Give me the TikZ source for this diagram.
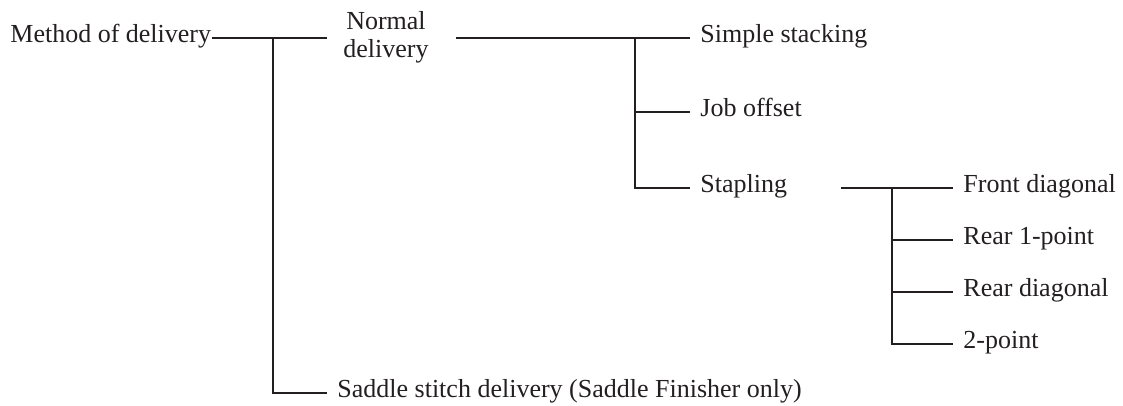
\documentclass[tikz,border=0pt]{standalone}
\usepackage{fontspec}
\setmainfont{Liberation Serif}
\usepackage{xcolor,tikz}
\usetikzlibrary{positioning,calc}
\definecolor{dlvInk}{HTML}{231F20}
\tikzset{
  tree label/.style={
    anchor=west, inner ysep=0pt, inner xsep=5pt,
    text height=4.5pt, text depth=0pt,   % west anchor sits on the branch
    font=\fontsize{13}{13.5}\selectfont, text=dlvInk,
  },
  tree line/.style={
    line width=1pt, color=dlvInk,
  },
}

\begin{document}
\begin{tikzpicture}[x=0.5pt, y=-0.5pt]
\useasboundingbox (0,0) rectangle (1123,406);

% Junction points of the tree
\coordinate (j1) at (273,38);
\coordinate (j2) at (635,38);
\coordinate (j3) at (892,188);

% Root and first level
\node[tree label, inner xsep=0pt] (method) at (10,38) {Method of delivery};
\node[font=\fontsize{13}{13.8}\selectfont, text=dlvInk, align=center,
  anchor=north west, inner ysep=0pt, inner xsep=8pt] (normal) at (327,11)
  {Normal\\delivery};
\node[tree label] (saddle) at (327,393)
  {Saddle stitch delivery (Saddle Finisher only)};

% Normal delivery modes
\node[tree label] (simple) at (690,38) {Simple stacking};
\node[tree label] (job) at (690,112.5) {Job offset};
\node[tree label] (stapling) at (690,188) {Stapling};

% Stapling positions
\foreach \name/\y/\txt in {front/188/Front diagonal, rearone/240/Rear 1-point,
                          reardiag/292/Rear diagonal, twopt/344/2-point} {
  \node[tree label] (\name) at (953,\y) {\txt};
}

% Branches
\draw[tree line] (method.east) -- (normal.west |- j1);
\draw[tree line] (j1) |- (saddle.west);
\draw[tree line] ([xshift=5.5pt]normal.east |- j1) -- (simple.west);
\draw[tree line] (j2) |- (job.west);
\draw[tree line] (j2) |- (stapling.west);
\draw[tree line] ([xshift=22pt]stapling.east) -- (front.west);
\foreach \name in {rearone, reardiag, twopt} {
  \draw[tree line] (j3) |- (\name.west);
}

\end{tikzpicture}
\end{document}
